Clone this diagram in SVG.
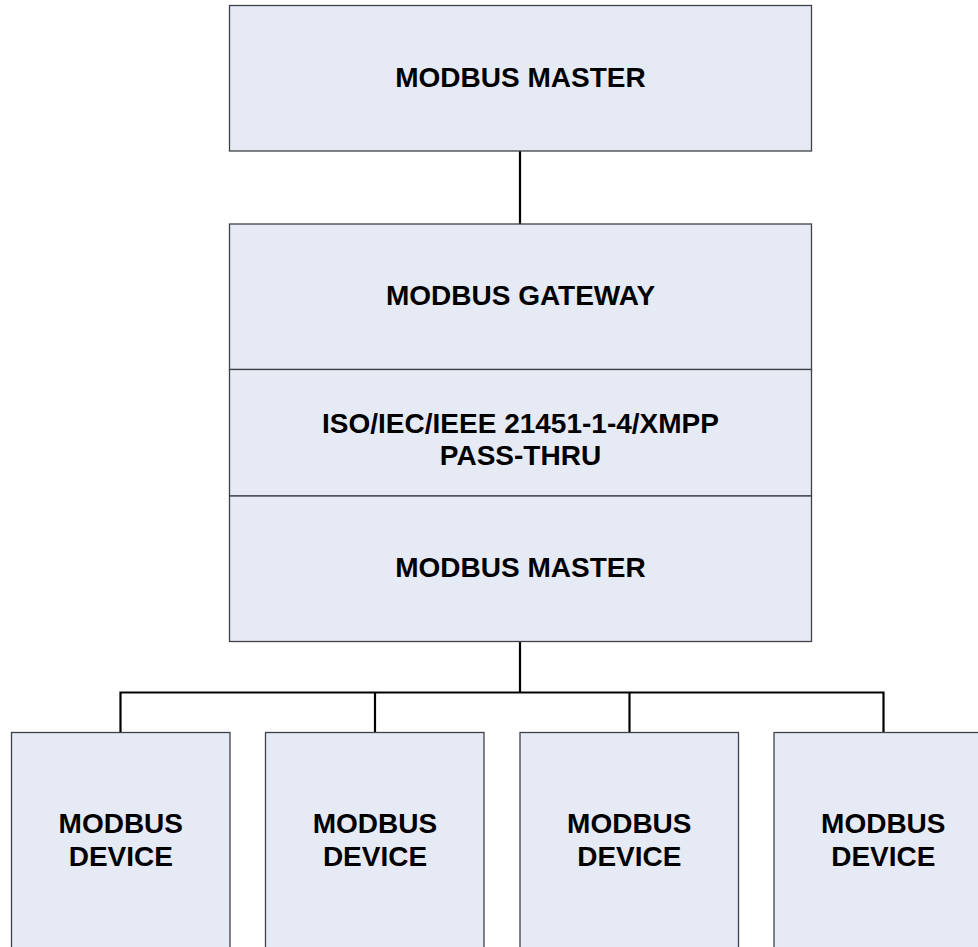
<svg xmlns="http://www.w3.org/2000/svg" width="978" height="947" viewBox="0 0 978 947">
  <style>
    .box { fill: #E6EAF4; stroke: #404048; stroke-width: 1.3; }
    .wire { fill: none; stroke: #000000; stroke-width: 2.2; }
    .lbl { font-family: "Liberation Sans", Arial, sans-serif; font-weight: bold; font-size: 28px; fill: #000000; text-anchor: middle; }
  </style>
  <rect x="0" y="0" width="978" height="947" fill="#FFFFFF"/>

  <g id="connectors">
    <line class="wire" x1="520" y1="151" x2="520" y2="224"/>
    <line class="wire" x1="520" y1="641.5" x2="520" y2="692.5"/>
    <polyline class="wire" points="120.5,732.5 120.5,692.5 883.5,692.5 883.5,732.5"/>
    <line class="wire" x1="375" y1="692.5" x2="375" y2="732.5"/>
    <line class="wire" x1="629.5" y1="692.5" x2="629.5" y2="732.5"/>
  </g>

  <g id="master-top">
    <rect class="box" x="229.5" y="5.5" width="582" height="145.5"/>
    <text class="lbl" x="520.5" y="86.7">MODBUS MASTER</text>
  </g>

  <g id="gateway">
    <rect class="box" x="229.5" y="224" width="582" height="145.5"/>
    <text class="lbl" x="520.5" y="305">MODBUS GATEWAY</text>
  </g>

  <g id="pass-thru">
    <rect class="box" x="229.5" y="369.5" width="582" height="126.5"/>
    <text class="lbl" x="520.5" y="432.5">ISO/IEC/IEEE 21451-1-4/XMPP</text>
    <text class="lbl" x="520.5" y="465">PASS-THRU</text>
  </g>

  <g id="master-bottom">
    <rect class="box" x="229.5" y="496" width="582" height="145.5"/>
    <text class="lbl" x="520.5" y="577">MODBUS MASTER</text>
  </g>

  <g id="device-1">
    <rect class="box" x="11.5" y="732.5" width="218.5" height="230"/>
    <text class="lbl" x="120.8" y="832.7">MODBUS</text>
    <text class="lbl" x="120.8" y="866">DEVICE</text>
  </g>

  <g id="device-2">
    <rect class="box" x="265.5" y="732.5" width="218.5" height="230"/>
    <text class="lbl" x="375" y="832.7">MODBUS</text>
    <text class="lbl" x="375" y="866">DEVICE</text>
  </g>

  <g id="device-3">
    <rect class="box" x="520" y="732.5" width="218.5" height="230"/>
    <text class="lbl" x="629.3" y="832.7">MODBUS</text>
    <text class="lbl" x="629.3" y="866">DEVICE</text>
  </g>

  <g id="device-4">
    <rect class="box" x="774" y="732.5" width="218.5" height="230"/>
    <text class="lbl" x="883.3" y="832.7">MODBUS</text>
    <text class="lbl" x="883.3" y="866">DEVICE</text>
  </g>
</svg>
